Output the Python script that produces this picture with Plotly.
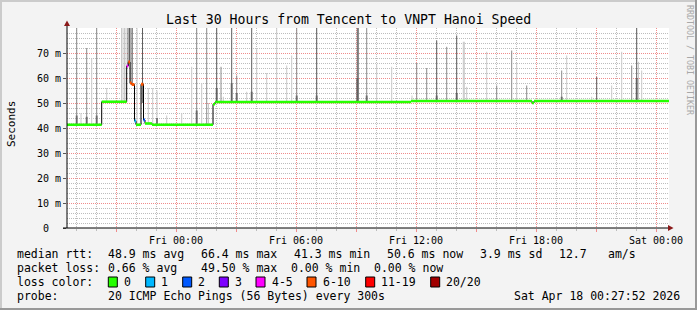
import numpy as np
import pandas as pd
import plotly.graph_objects as go

T0 = pd.Timestamp("2026-04-17 00:00:00")  # Fri 00:00

# ---------------- data ----------------
# median rtt (step points): hours since Fri 00:00, value in ms, loss bucket
med_hours = [-5.45, -3.715, -2.465, -2.385, -2.3, -2.215, -2.075, -2.0, -1.75,
             -1.625, -1.55, -1.2, 1.85, 1.95, 11.75, 17.8, 17.9, 24.65]
med_ms = [41.3, 50.5, 64.8, 66.4, 58.0, 57.4, 42.8, 41.3, 57.5,
          43.2, 41.8, 41.3, 49.5, 50.4, 50.8, 50.0, 50.8, 50.8]
med_loss = ["0", "0", "4-5", "6-10", "6-10", "6-10", "1", "0", "6-10",
            "2", "0", "0", "0", "0", "0", "0", "0", "0"]

# smoke (max ping per interval): hours since Fri 00:00, top in ms, shade
spike_hours = [-4.965, -4.75, -4.465, -4.215, -3.965, -3.465,
               -2.725, -2.65, -2.575, -2.5, -2.4, -2.325, -2.25, -2.175,
               -1.95, -1.675, -1.385, -1.165, -0.95, -0.465,
               0.285, 0.785, 1.035, 1.285, 1.535, 1.625, 2.035, 2.25, 2.365,
               2.785, 3.035, 3.535, 3.785, 4.035, 4.535, 5.035, 5.535, 5.785,
               6.035, 7.035, 8.035, 9.065, 9.125, 9.535, 10.035, 10.785, 11.8,
               12.035, 12.535, 13.035, 13.535, 14.035, 14.365, 14.415, 14.535,
               15.535, 16.035, 16.785, 17.035, 17.535,
               19.285, 19.535, 20.785, 21.035, 21.785, 22.285, 22.785, 23.035,
               23.125, 23.285]
spike_ms = [85, 46, 72, 68, 85, 56,
            85, 85, 85, 85, 85, 85, 85, 85,
            85, 85, 56, 56, 55, 45,
            46, 64.5, 85, 58, 85, 50, 85, 64.5, 52.5,
            85, 61, 54.5, 85, 72, 62, 85, 65, 69,
            85, 85, 56.5, 85, 85, 85, 65.5, 64.5, 53,
            66, 64, 75, 72.5, 77, 74.5, 74.5, 56.5,
            70.5, 57, 71, 66, 57,
            63, 69, 52.5, 60.5, 57, 70.5, 65, 85,
            66.5, 63]
spike_shade = ["m", "l", "m", "l", "m", "l",
               "l", "l", "l", "l", "d", "d", "d", "m",
               "l", "d", "l", "l", "l", "l",
               "l", "l", "m", "l", "m", "l", "d", "m", "l",
               "d", "m", "l", "d", "l", "l", "l", "l", "l",
               "m", "d", "l", "d", "m", "m", "l", "l", "l",
               "m", "m", "d", "m", "d", "l", "l", "l",
               "l", "m", "m", "l", "m",
               "m", "l", "l", "d", "l", "l", "m", "d",
               "l", "l"]

# darker smoke core close to the median
core_hours = [-4.965, -4.465, -3.965, -1.675, -0.95, 1.035, 2.035, 2.785, 3.035,
              3.785, 6.035, 7.035, 9.065, 9.535, 13.035, 14.035, 19.285, 23.035]
core_ms = [45, 44.5, 45, 50, 44, 47, 56, 58, 54,
           54.5, 53, 53, 60, 53, 53, 54, 52.5, 60]

loss_buckets = ["0", "1", "2", "3", "4-5", "6-10", "11-19", "20/20"]
loss_colors = ["#26ff00", "#00b8ff", "#0059ff", "#7e00ff", "#ff00ff",
               "#ff5500", "#ff0000", "#a10000"]

y_tickvals = [0, 10, 20, 30, 40, 50, 60, 70]
y_ticktext = ["0\u00a0\u00a0", "10 m", "20 m", "30 m", "40 m", "50 m", "60 m", "70 m"]
x_tick_hours = [-3, 0, 3, 6, 9, 12, 15, 18, 21, 24]
x_ticktext = ["", "Fri 00:00", "", "Fri 06:00", "", "Fri 12:00", "", "Fri 18:00", "", "Sat 00:00"]

title_text = "Last 30 Hours from Tencent to VNPT Hanoi Speed"
legend_rows = [
    [("median rtt:", 16), ("48.9 ms avg", 107.3), ("66.4 ms max", 200), ("41.3 ms min", 293.3),
     ("50.6 ms now", 386), ("3.9 ms sd", 479), ("12.7", 558.3), ("am/s", 606.7)],
    [("packet loss:", 16), ("0.66 % avg", 107.3), ("49.50 % max", 200),
     ("0.00 % min", 290), ("0.00 % now", 373)],
    [("loss color:", 16)],
    [("probe:", 16), ("20 ICMP Echo Pings (56 Bytes) every 300s", 107.3),
     ("Sat Apr 18 00:27:52 2026", 513.3)],
]
legend_row_y = [254.3, 268.3, 282.3, 296]
box_px = [108.3, 145.7, 182.7, 219.3, 256, 307, 365.7, 430.7]
box_label_px = [123.3, 160.3, 197.3, 234.3, 271, 321.7, 380, 445]

# ---------------- geometry ----------------
W, H = 697, 310
L, R, TOP, BOT = 67, 669, 28, 228
MONO = "DejaVu Sans Mono"


def px2x(px):
    return (px - L) / (R - L)


def py2y(py):
    return (BOT - py) / (BOT - TOP)


def t(h):
    return T0 + pd.to_timedelta(np.asarray(h, dtype=float), unit="h")


med_h = np.array(med_hours)
med_v = np.array(med_ms)


def med_at(h):
    i = np.searchsorted(med_h, h, side="right") - 1
    return med_v[max(i, 0)]


fig = go.Figure()

# smoke spikes
shade_col = {"l": "#c9c9c9", "m": "#8c8c8c", "d": "#5e5e5e"}
for sh in ["l", "m", "d"]:
    xs, ys = [], []
    for h, v, s in zip(spike_hours, spike_ms, spike_shade):
        if s != sh:
            continue
        tt = t([h])[0]
        xs += [tt, tt, None]
        ys += [med_at(h), v, None]
    fig.add_trace(go.Scatter(x=xs, y=ys, mode="lines",
                             line=dict(color=shade_col[sh], width=1), hoverinfo="skip"))

xs, ys = [], []
for h, v in zip(core_hours, core_ms):
    tt = t([h])[0]
    xs += [tt, tt, None]
    ys += [med_at(h), v, None]
fig.add_trace(go.Scatter(x=xs, y=ys, mode="lines",
                         line=dict(color="rgba(90,90,90,0.75)", width=2), hoverinfo="skip"))

# median step line (black)
fig.add_trace(go.Scatter(x=t(med_hours), y=med_ms, mode="lines",
                         line=dict(color="#000000", width=1, shape="hv"), hoverinfo="skip"))

# coloured horizontal segments by loss
for b, c in zip(loss_buckets, loss_colors):
    xs, ys = [], []
    for i in range(len(med_hours) - 1):
        if med_loss[i] != b:
            continue
        xs += [t([med_hours[i]])[0], t([med_hours[i + 1]])[0], None]
        ys += [med_ms[i], med_ms[i], None]
    if xs:
        fig.add_trace(go.Scatter(x=xs, y=ys, mode="lines",
                                 line=dict(color=c, width=2.6 if b == "0" else 3),
                                 hoverinfo="skip"))

grid_dash = "1px,1px"
minor_col = "#bdbdbd"
major_col = "#f08c8c"
fig.update_xaxes(
    type="date",
    range=[t([-5.45])[0], t([24.65])[0]],
    tickmode="array",
    tickvals=t(x_tick_hours),
    ticktext=x_ticktext,
    showgrid=True, gridcolor=major_col, griddash=grid_dash, gridwidth=1,
    ticks="outside", ticklen=3, tickcolor=major_col,
    tickfont=dict(family=MONO, size=10, color="#000"),
    minor=dict(tickmode="linear", tick0=T0, dtick=3600000, showgrid=True,
               gridcolor=minor_col, griddash=grid_dash, gridwidth=1,
               ticks="outside", ticklen=2, tickcolor=minor_col),
    zeroline=False, showline=False, fixedrange=True,
)
fig.update_yaxes(
    range=[0, 80],
    tickmode="array", tickvals=y_tickvals, ticktext=y_ticktext,
    showgrid=True, gridcolor=major_col, griddash=grid_dash, gridwidth=1,
    ticks="outside", ticklen=3, tickcolor="#555",
    tickfont=dict(family=MONO, size=10, color="#000"),
    minor=dict(tickmode="linear", tick0=0, dtick=2, showgrid=True,
               gridcolor=minor_col, griddash=grid_dash, gridwidth=1),
    zeroline=False, showline=False, fixedrange=True,
)

shapes = []
# axis lines and arrows
shapes.append(dict(type="line", xref="paper", yref="paper", x0=px2x(63), x1=px2x(670),
                   y0=0, y1=0, line=dict(color="#000", width=1)))
shapes.append(dict(type="line", xref="paper", yref="paper", x0=0, x1=0,
                   y0=0, y1=py2y(25), line=dict(color="#000", width=1)))
shapes.append(dict(type="path", xref="paper", yref="paper",
                   path=f"M {px2x(668)} {py2y(225)} L {px2x(673.5)} {py2y(228)} L {px2x(668)} {py2y(231)} Z",
                   fillcolor="#8b1a1a", line=dict(width=0)))
shapes.append(dict(type="path", xref="paper", yref="paper",
                   path=f"M {px2x(64)} {py2y(26)} L {px2x(67)} {py2y(20.5)} L {px2x(70)} {py2y(26)} Z",
                   fillcolor="#8b1a1a", line=dict(width=0)))
# outer frame (3d shading)
shapes.append(dict(type="line", xref="paper", yref="paper", x0=px2x(0), x1=px2x(697),
                   y0=py2y(1), y1=py2y(1), line=dict(color="#cbcbcb", width=2)))
shapes.append(dict(type="line", xref="paper", yref="paper", x0=px2x(1), x1=px2x(1),
                   y0=py2y(0), y1=py2y(310), line=dict(color="#cbcbcb", width=2)))
shapes.append(dict(type="line", xref="paper", yref="paper", x0=px2x(0), x1=px2x(697),
                   y0=py2y(309), y1=py2y(309), line=dict(color="#999999", width=2)))
shapes.append(dict(type="line", xref="paper", yref="paper", x0=px2x(696), x1=px2x(696),
                   y0=py2y(0), y1=py2y(310), line=dict(color="#999999", width=2)))
# loss colour boxes
for bx, c in zip(box_px, loss_colors):
    shapes.append(dict(type="rect", xref="paper", yref="paper", x0=px2x(bx), x1=px2x(bx + 9),
                       y0=py2y(287), y1=py2y(277), fillcolor=c, line=dict(color="#000", width=1)))

ann = []
ann.append(dict(text=title_text, xref="paper", yref="paper", x=px2x(348), y=py2y(19),
                xanchor="center", yanchor="middle", showarrow=False,
                font=dict(family=MONO, size=13.2, color="#000")))
ann.append(dict(text="Seconds", xref="paper", yref="paper", x=px2x(11), y=py2y(124),
                xanchor="center", yanchor="middle", textangle=-90, showarrow=False,
                font=dict(family=MONO, size=11, color="#000")))
ann.append(dict(text="RRDTOOL / TOBI OETIKER", xref="paper", yref="paper", x=px2x(690), y=py2y(60),
                xanchor="center", yanchor="middle", textangle=90, showarrow=False,
                font=dict(family=MONO, size=8.3, color="#a8a8a8")))
for row, ry in zip(legend_rows, legend_row_y):
    for txt, px in row:
        ann.append(dict(text=txt, xref="paper", yref="paper", x=px2x(px - 1), y=py2y(ry),
                        xanchor="left", yanchor="middle", showarrow=False,
                        font=dict(family=MONO, size=11.5, color="#000")))
for b, px in zip(loss_buckets, box_label_px):
    ann.append(dict(text=b, xref="paper", yref="paper", x=px2x(px - 1), y=py2y(legend_row_y[2]),
                    xanchor="left", yanchor="middle", showarrow=False,
                    font=dict(family=MONO, size=11.5, color="#000")))

fig.update_layout(
    width=W, height=H,
    margin=dict(l=L, r=W - R, t=TOP, b=H - BOT, pad=0),
    paper_bgcolor="#f3f3f3", plot_bgcolor="#ffffff",
    showlegend=False, hovermode=False,
    shapes=shapes, annotations=ann,
)

fig.write_html("out.html", config={"displayModeBar": False})
